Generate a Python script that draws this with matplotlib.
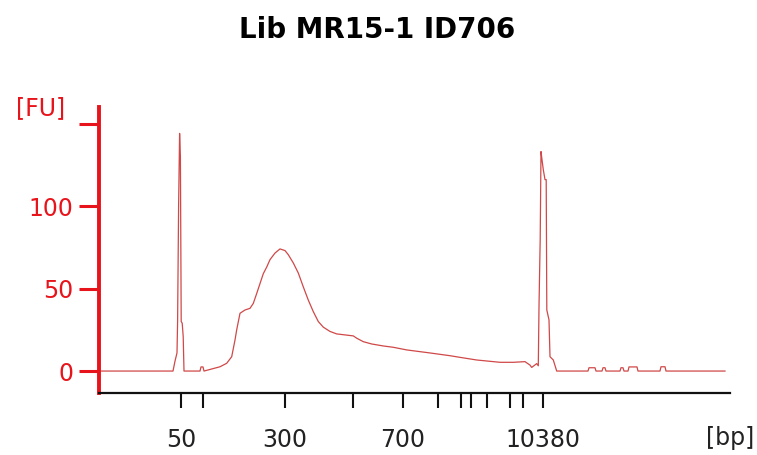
import matplotlib
matplotlib.use("Agg")
import matplotlib.pyplot as plt
import numpy as np

# Migration position (arbitrary scale) and fluorescence [FU]
pos = [99, 173, 175, 177, 177.6, 178.6, 179.6, 180.4, 181.2, 182.2, 183.2, 184,
       200, 201, 203, 204, 220, 226.7, 231.7, 235, 236.7, 240, 245, 250, 253.3,
       256.7, 260, 263.3, 266.7, 270, 275, 280, 285, 288.3, 293.3, 298.3, 303.3,
       308.3, 313.3, 318.3, 323.3, 330, 336.7, 353.3, 356.7, 363.3, 371.7, 383.3,
       393.3, 406.7, 428.3, 450, 460, 476.7, 500, 513.3, 525, 530, 531.7, 536.7,
       538.3, 539, 540.2, 541, 542, 543.3, 545, 546.2, 546.8, 549, 550, 553.3,
       556.7, 588, 589, 595, 596, 602, 603, 605, 606, 620, 621, 623, 624, 628,
       629, 637, 638, 660, 661, 665, 666, 725]
fu = [0, 0, 6, 11, 30, 100, 144, 130, 30, 29, 21, 0,
      0, 2.5, 2.5, 0, 2.6, 4.7, 8.7, 18.8, 25, 35, 37, 38, 41,
      47, 53, 59, 63, 67.5, 71.5, 74, 73, 70.5, 65.5, 59.4, 51,
      43, 36, 30, 26.6, 24, 22.5, 21.3, 19.9, 17.8, 16.4, 15.2,
      14.4, 12.8, 11.1, 9.3, 8.3, 6.7, 5.3, 5.3, 5.7, 3.6, 2.2, 4.5,
      3.2, 39, 80, 133, 128, 122, 116, 116, 37, 31, 8.7, 6.7,
      0, 0, 2, 2, 0, 0, 2, 2, 0, 0, 2, 2, 0, 0,
      2.5, 2.5, 0, 0, 2.6, 2.6, 0, 0]

ladder_pos = [181, 203, 285, 353, 403, 438, 461, 471, 487, 510, 523, 543]
ladder_labels = ["50", "", "300", "", "700", "", "", "", "", "", "", "10380"]
y_ticks = [0, 50, 100, 150]
y_labels = ["0", "50", "100", ""]

W, H = 757, 455
fig = plt.figure(figsize=(W / 100, H / 100), dpi=100)
ax = fig.add_axes([99 / W, 1 - 393 / H, (730 - 99) / W, (393 - 107) / H])

red = "#e8141c"
ax.plot(pos, fu, color="#d04848", lw=0.9)

ax.set_xlim(99, 730)
ax.set_ylim(-13.3, 160)

for s in ["top", "right"]:
    ax.spines[s].set_visible(False)
ax.spines["left"].set_color(red)
ax.spines["left"].set_linewidth(2.8)
ax.spines["bottom"].set_color("#111111")
ax.spines["bottom"].set_linewidth(1.6)

ax.set_yticks(y_ticks)
ax.set_yticklabels(y_labels)
ax.tick_params(axis="y", colors=red, labelcolor=red, length=14.5, width=2.2,
               direction="out", pad=4, labelsize=17)
ax.set_xticks(ladder_pos)
ax.set_xticklabels(ladder_labels)
ax.tick_params(axis="x", colors="#111111", labelcolor="#222222", length=11,
               width=1.5, direction="out", pad=14, labelsize=17)

fig.text(41 / W, 1 - 108 / H, "[FU]", color=red, fontsize=17,
         ha="center", va="center")
fig.text(730 / W, 1 - 438 / H, "[bp]", color="#222222", fontsize=17,
         ha="center", va="center")
fig.text(377 / W, 1 - 30 / H, "Lib MR15-1 ID706", fontsize=20,
         fontweight="bold", ha="center", va="center", color="black")

fig.savefig("out.png", dpi=100, facecolor="white")
